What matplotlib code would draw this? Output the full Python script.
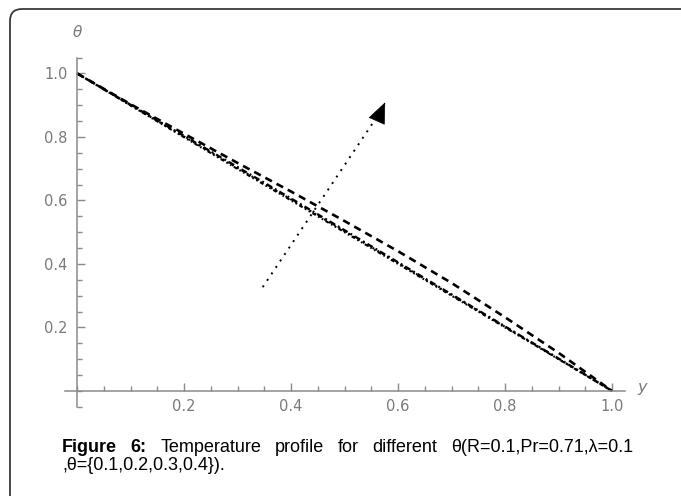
import matplotlib.pyplot as plt
from matplotlib.patches import FancyBboxPatch
from matplotlib.ticker import MultipleLocator, FixedLocator

# values (theta vs y)
y_pts = [0.0, 0.1, 0.2, 0.3, 0.4, 0.5, 0.6, 0.7, 0.8, 0.9, 1.0]
theta_04 = [1.0, 0.903, 0.810, 0.718, 0.628, 0.535, 0.440, 0.340, 0.232, 0.120, 0.0]
theta_03 = [1.0, 0.901, 0.803, 0.705, 0.606, 0.506, 0.405, 0.304, 0.203, 0.102, 0.0]
theta_02 = [1.0, 0.900, 0.801, 0.702, 0.603, 0.503, 0.403, 0.302, 0.202, 0.101, 0.0]
theta_01 = [1.0, 0.899, 0.799, 0.699, 0.600, 0.500, 0.400, 0.300, 0.200, 0.100, 0.0]

major_ticks = [0.2, 0.4, 0.6, 0.8, 1.0]
tick_labels = ["0.2", "0.4", "0.6", "0.8", "1.0"]

arrow_start = (0.347, 0.327)
arrow_tip = (0.578, 0.917)

caption_words = ["Figure", "6:", "Temperature", "profile", "for", "different",
                 "θ(R=0.1,Pr=0.71,λ=0.1"]
caption_line2 = ",θ={0.1,0.2,0.3,0.4})."

axis_gray = "#8a8a8a"
label_gray = "#7a7a7a"

fig = plt.figure(figsize=(6.81, 4.96), dpi=100)
ax = fig.add_axes([0.0896, 0.1734, 0.8406, 0.717])

ax.plot(y_pts, theta_04, color="black", lw=1.9, linestyle=(0, (2.8, 2.0)))
ax.plot(y_pts, theta_03, color="black", lw=1.7, linestyle=(0, (2.6, 1.4, 0.8, 1.4)))
ax.plot(y_pts, theta_02, color="black", lw=1.5, linestyle=(0, (0.9, 1.8)))
ax.plot(y_pts, theta_01, color="black", lw=1.5, linestyle=(0, (1.8, 1.3, 0.8, 1.3, 0.8, 1.3)))

# arrow showing increasing theta
ax.plot([arrow_start[0], arrow_tip[0] - 0.008], [arrow_start[1], arrow_tip[1] - 0.03],
        color="black", lw=1.4, linestyle=(0, (1, 3)))
ax.annotate("", xy=arrow_tip, xytext=(arrow_tip[0] - 0.012, arrow_tip[1] - 0.045),
            arrowprops=dict(arrowstyle="-|>,head_length=1.0,head_width=0.42",
                            color="black", lw=0.5, mutation_scale=14))

ax.set_xlim(-0.03, 1.04)
ax.set_ylim(-0.06, 1.06)
for s in ["top", "right"]:
    ax.spines[s].set_visible(False)
ax.spines["left"].set_position(("data", 0))
ax.spines["bottom"].set_position(("data", 0))
ax.spines["left"].set_bounds(-0.05, 1.05)
ax.spines["bottom"].set_bounds(-0.022, 1.025)
for s in ["left", "bottom"]:
    ax.spines[s].set_color(axis_gray)
    ax.spines[s].set_linewidth(1.1)

for axis in (ax.xaxis, ax.yaxis):
    axis.set_major_locator(FixedLocator(major_ticks))
    axis.set_minor_locator(MultipleLocator(0.05))
ax.set_xticklabels(tick_labels)
ax.set_yticklabels(tick_labels)
ax.tick_params(which="both", direction="in", color=axis_gray, width=1.0)
ax.tick_params(which="major", length=6)
ax.tick_params(which="minor", length=3.5)
ax.tick_params(axis="x", pad=6)
ax.tick_params(axis="y", pad=7)
for lab in ax.get_xticklabels() + ax.get_yticklabels():
    lab.set_fontfamily("DejaVu Sans")
    lab.set_fontsize(10.5)
    lab.set_color(label_gray)

ax.text(0.0, 1.128, "θ", style="italic", fontsize=11, color=label_gray,
        ha="center", va="center", family="DejaVu Sans", clip_on=False)
ax.text(1.056, 0.01, "y", style="italic", fontsize=11.5, color=label_gray,
        ha="center", va="center", family="DejaVu Sans", clip_on=False)

# rounded frame, cut off at the right and bottom
frame = FancyBboxPatch((0.10, -0.3), 7.2, 4.87 + 0.3, boxstyle="round,pad=0,rounding_size=0.12",
                       transform=fig.dpi_scale_trans, fill=False, ec="#3a3a3a", lw=1.3)
fig.patches.append(frame)

# justified caption
x0, x1 = 62 / 681, 633 / 681
line1_y = 1 - 447 / 496
line2_y = 1 - 466 / 496
renderer = fig.canvas.get_renderer()
texts = []
for i, w in enumerate(caption_words):
    t = fig.text(0, line1_y, w, fontsize=13, family="Liberation Sans",
                 fontweight="bold" if i < 2 else "normal", va="center", ha="left")
    texts.append(t)
widths = [t.get_window_extent(renderer).width / fig.bbox.width for t in texts]
gap = (x1 - x0 - sum(widths)) / (len(texts) - 1)
xpos = x0
for t, w in zip(texts, widths):
    t.set_x(xpos)
    xpos += w + gap
fig.text(x0, line2_y, caption_line2, fontsize=13, family="Liberation Sans", va="center", ha="left")

fig.savefig("out.png", dpi=100)
